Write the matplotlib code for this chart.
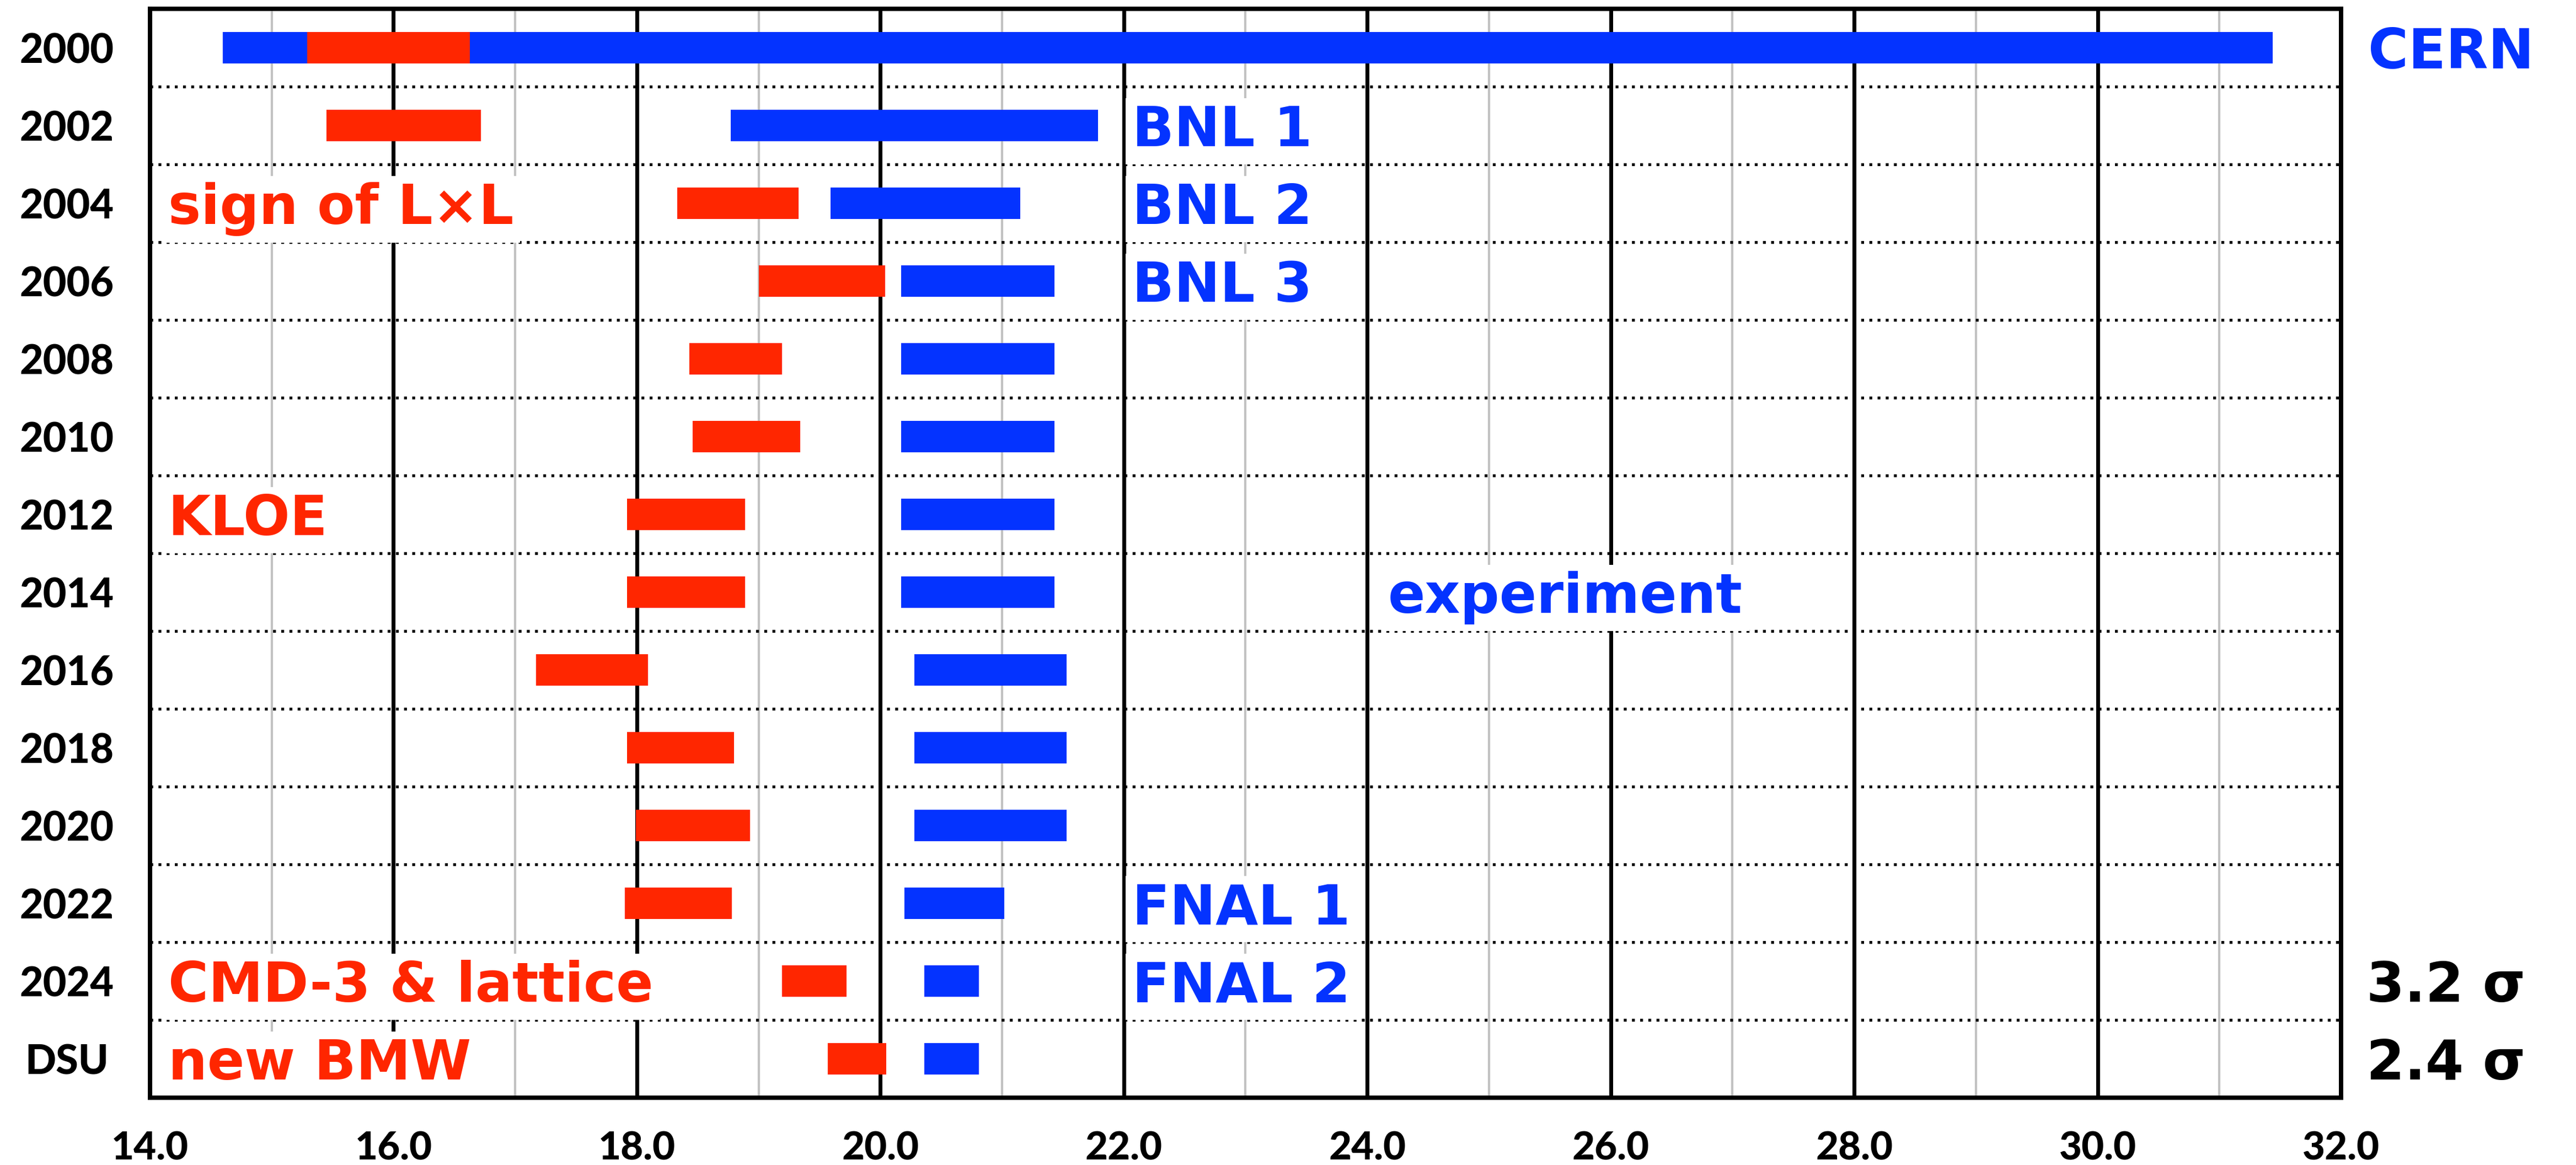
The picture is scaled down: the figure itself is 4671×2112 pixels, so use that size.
import numpy as np
import matplotlib
matplotlib.use("Agg")
import matplotlib.pyplot as plt
from matplotlib.ticker import MultipleLocator, FormatStrFormatter

# ---- data -------------------------------------------------------------
rows = ["2000", "2002", "2004", "2006", "2008", "2010", "2012", "2014",
        "2016", "2018", "2020", "2022", "2024", "DSU"]

# theory prediction band (red): lower / upper edge
theory_lo = [15.29, 15.45, 18.33, 19.00, 18.43, 18.46, 17.92, 17.92,
             17.17, 17.92, 17.99, 17.90, 19.19, 19.57]
theory_hi = [16.63, 16.72, 19.33, 20.04, 19.19, 19.34, 18.89, 18.89,
             18.09, 18.80, 18.93, 18.78, 19.72, 20.05]

# measured band (blue): lower / upper edge
exp_lo = [14.60, 18.77, 19.59, 20.17, 20.17, 20.17, 20.17, 20.17,
          20.28, 20.28, 20.28, 20.20, 20.36, 20.36]
exp_hi = [31.44, 21.79, 21.15, 21.43, 21.43, 21.43, 21.43, 21.43,
          21.53, 21.53, 21.53, 21.02, 20.81, 20.81]

x_ticks = [14.0, 16.0, 18.0, 20.0, 22.0, 24.0, 26.0, 28.0, 30.0, 32.0]

theory_notes = [("sign of L×L", "2004"), ("KLOE", "2012"),
                ("CMD-3 & lattice", "2024"), ("new BMW", "DSU")]
exp_notes = [("BNL 1", "2002"), ("BNL 2", "2004"), ("BNL 3", "2006"),
             ("FNAL 1", "2022"), ("FNAL 2", "2024")]
exp_center_note = ("experiment", "2014")
cern_note = ("CERN", "2000")
sigma_notes = [("3.2 σ", "2024"), ("2.4 σ", "DSU")]

# ---- style ------------------------------------------------------------
RED = "#FF2600"
BLUE = "#0433FF"
LABEL_FONT = dict(family="DejaVu Sans", weight="bold", size=23.9)
TICK_FONT = dict(family="Lato", weight=900)

W, H, DPI = 4671, 2112, 300
fig = plt.figure(figsize=(W / DPI, H / DPI), dpi=DPI)
ax = fig.add_axes([0.05823, 0.05777, 0.85057, 0.93466])

n = len(rows)
y = np.arange(n)
row_of = {r: i for i, r in enumerate(rows)}

ax.set_xlim(x_ticks[0], x_ticks[-1])
ax.set_ylim(n - 0.5, -0.5)

# vertical grid: black at even values, light grey at odd values
ax.xaxis.set_major_locator(MultipleLocator(2))
ax.xaxis.set_minor_locator(MultipleLocator(1))
ax.set_axisbelow(True)
ax.grid(which="major", axis="x", color="black", lw=1.7, zorder=0.6)
ax.grid(which="minor", axis="x", color="#c2c2c2", lw=1.0, zorder=0.5)
ax.grid(which="major", axis="y", visible=False)

# dotted separators between rows
sep = ax.hlines(y[:-1] + 0.5, x_ticks[0], x_ticks[-1], colors="black",
                linestyles=(0, (1.0, 1.85)), lw=1.25, zorder=0.7)
sep.set_capstyle("butt")

# bands
ax.barh(y, np.array(exp_hi) - np.array(exp_lo), left=exp_lo, height=0.4,
        color=BLUE, zorder=3)
ax.barh(y, np.array(theory_hi) - np.array(theory_lo), left=theory_lo,
        height=0.4, color=RED, zorder=4)

# axis frame and ticks
for s in ax.spines.values():
    s.set_linewidth(1.9)
    s.set_color("black")
    s.set_zorder(5)

ax.set_xticks(x_ticks)
ax.xaxis.set_major_formatter(FormatStrFormatter("%.1f"))
ax.tick_params(axis="x", which="both", length=0, pad=14.2)
for lab in ax.get_xticklabels():
    lab.set_fontfamily(TICK_FONT["family"])
    lab.set_fontweight(TICK_FONT["weight"])
    lab.set_fontsize(17.0)

ax.set_yticks(y)
ax.set_yticklabels(rows)
ax.tick_params(axis="y", length=0, pad=36.2)
for lab in ax.get_yticklabels():
    lab.set_fontfamily(TICK_FONT["family"])
    lab.set_fontweight(TICK_FONT["weight"])
    lab.set_fontsize(17.7)
    lab.set_horizontalalignment("center")

# annotations
box = dict(boxstyle="square,pad=0.12", fc="white", ec="none")


def note(x, row, text, color, with_box=True):
    ax.text(x, row_of[row], text, color=color, ha="left",
            va="center_baseline", zorder=2.5, clip_on=False,
            bbox=box if with_box else None, **LABEL_FONT)


for text, row in theory_notes:
    note(14.15, row, text, RED)
for text, row in exp_notes:
    note(22.07, row, text, BLUE)
note(24.17, exp_center_note[1], exp_center_note[0], BLUE)
note(32.22, cern_note[1], cern_note[0], BLUE, with_box=False)
for text, row in sigma_notes:
    note(32.21, row, text, "black", with_box=False)

fig.savefig("out.png", dpi=DPI)
